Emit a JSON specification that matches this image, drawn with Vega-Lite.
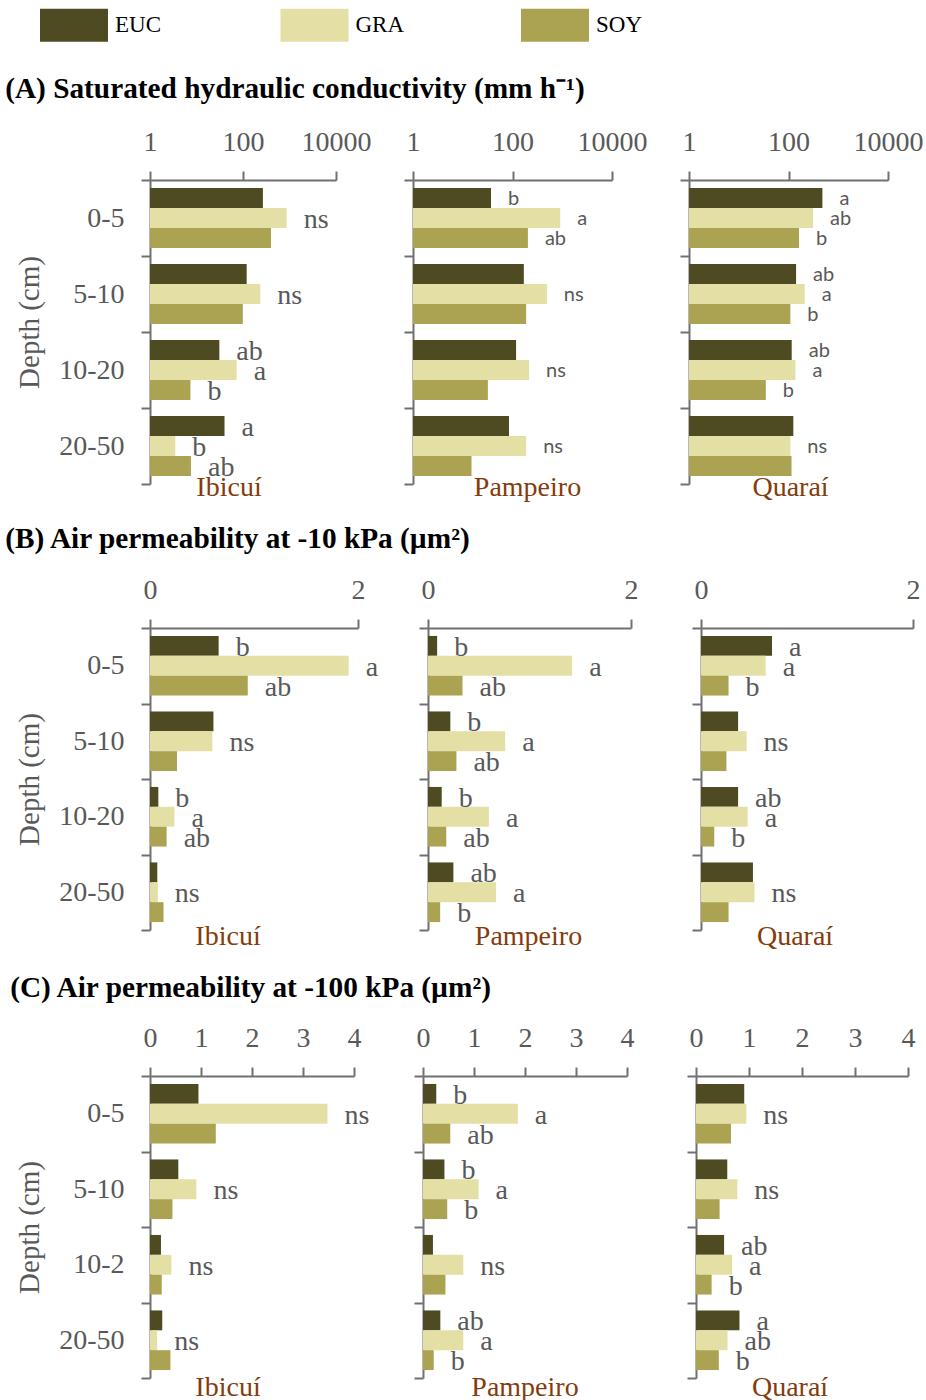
{
"$schema": "https://vega.github.io/schema/vega-lite/v6.json",
"padding": {"left": 5, "top": 8, "right": 3, "bottom": 0},
"data": {"values": [
{"p":"A","s":"Ibicuí","d":"0-5","t":"EUC","v":268,"l":""},
{"p":"A","s":"Ibicuí","d":"0-5","t":"GRA","v":870,"l":"ns"},
{"p":"A","s":"Ibicuí","d":"0-5","t":"SOY","v":400,"l":""},
{"p":"A","s":"Ibicuí","d":"5-10","t":"EUC","v":120,"l":""},
{"p":"A","s":"Ibicuí","d":"5-10","t":"GRA","v":236,"l":"ns"},
{"p":"A","s":"Ibicuí","d":"5-10","t":"SOY","v":99,"l":""},
{"p":"A","s":"Ibicuí","d":"10-20","t":"EUC","v":31,"l":"ab"},
{"p":"A","s":"Ibicuí","d":"10-20","t":"GRA","v":73,"l":"a"},
{"p":"A","s":"Ibicuí","d":"10-20","t":"SOY","v":7.4,"l":"b"},
{"p":"A","s":"Ibicuí","d":"20-50","t":"EUC","v":40,"l":"a"},
{"p":"A","s":"Ibicuí","d":"20-50","t":"GRA","v":3.5,"l":"b"},
{"p":"A","s":"Ibicuí","d":"20-50","t":"SOY","v":7.6,"l":"ab"},
{"p":"A","s":"Pampeiro","d":"0-5","t":"EUC","v":37,"l":"b"},
{"p":"A","s":"Pampeiro","d":"0-5","t":"GRA","v":910,"l":"a"},
{"p":"A","s":"Pampeiro","d":"0-5","t":"SOY","v":204,"l":"ab"},
{"p":"A","s":"Pampeiro","d":"5-10","t":"EUC","v":169,"l":""},
{"p":"A","s":"Pampeiro","d":"5-10","t":"GRA","v":490,"l":"ns"},
{"p":"A","s":"Pampeiro","d":"5-10","t":"SOY","v":188,"l":""},
{"p":"A","s":"Pampeiro","d":"10-20","t":"EUC","v":118,"l":""},
{"p":"A","s":"Pampeiro","d":"10-20","t":"GRA","v":215,"l":"ns"},
{"p":"A","s":"Pampeiro","d":"10-20","t":"SOY","v":32,"l":""},
{"p":"A","s":"Pampeiro","d":"20-50","t":"EUC","v":85,"l":""},
{"p":"A","s":"Pampeiro","d":"20-50","t":"GRA","v":188,"l":"ns"},
{"p":"A","s":"Pampeiro","d":"20-50","t":"SOY","v":15,"l":""},
{"p":"A","s":"Quaraí","d":"0-5","t":"EUC","v":480,"l":"a"},
{"p":"A","s":"Quaraí","d":"0-5","t":"GRA","v":311,"l":"ab"},
{"p":"A","s":"Quaraí","d":"0-5","t":"SOY","v":163,"l":"b"},
{"p":"A","s":"Quaraí","d":"5-10","t":"EUC","v":142,"l":"ab"},
{"p":"A","s":"Quaraí","d":"5-10","t":"GRA","v":212,"l":"a"},
{"p":"A","s":"Quaraí","d":"5-10","t":"SOY","v":109,"l":"b"},
{"p":"A","s":"Quaraí","d":"10-20","t":"EUC","v":116,"l":"ab"},
{"p":"A","s":"Quaraí","d":"10-20","t":"GRA","v":138,"l":"a"},
{"p":"A","s":"Quaraí","d":"10-20","t":"SOY","v":35,"l":"b"},
{"p":"A","s":"Quaraí","d":"20-50","t":"EUC","v":125,"l":""},
{"p":"A","s":"Quaraí","d":"20-50","t":"GRA","v":109,"l":"ns"},
{"p":"A","s":"Quaraí","d":"20-50","t":"SOY","v":115,"l":""},
{"p":"B","s":"Ibicuí","d":"0-5","t":"EUC","v":0.66,"l":"b"},
{"p":"B","s":"Ibicuí","d":"0-5","t":"GRA","v":1.91,"l":"a"},
{"p":"B","s":"Ibicuí","d":"0-5","t":"SOY","v":0.94,"l":"ab"},
{"p":"B","s":"Ibicuí","d":"5-10","t":"EUC","v":0.61,"l":""},
{"p":"B","s":"Ibicuí","d":"5-10","t":"GRA","v":0.60,"l":"ns"},
{"p":"B","s":"Ibicuí","d":"5-10","t":"SOY","v":0.26,"l":""},
{"p":"B","s":"Ibicuí","d":"10-20","t":"EUC","v":0.08,"l":"b"},
{"p":"B","s":"Ibicuí","d":"10-20","t":"GRA","v":0.235,"l":"a"},
{"p":"B","s":"Ibicuí","d":"10-20","t":"SOY","v":0.16,"l":"ab"},
{"p":"B","s":"Ibicuí","d":"20-50","t":"EUC","v":0.07,"l":""},
{"p":"B","s":"Ibicuí","d":"20-50","t":"GRA","v":0.075,"l":"ns"},
{"p":"B","s":"Ibicuí","d":"20-50","t":"SOY","v":0.13,"l":""},
{"p":"B","s":"Pampeiro","d":"0-5","t":"EUC","v":0.09,"l":"b"},
{"p":"B","s":"Pampeiro","d":"0-5","t":"GRA","v":1.42,"l":"a"},
{"p":"B","s":"Pampeiro","d":"0-5","t":"SOY","v":0.34,"l":"ab"},
{"p":"B","s":"Pampeiro","d":"5-10","t":"EUC","v":0.22,"l":"b"},
{"p":"B","s":"Pampeiro","d":"5-10","t":"GRA","v":0.76,"l":"a"},
{"p":"B","s":"Pampeiro","d":"5-10","t":"SOY","v":0.28,"l":"ab"},
{"p":"B","s":"Pampeiro","d":"10-20","t":"EUC","v":0.135,"l":"b"},
{"p":"B","s":"Pampeiro","d":"10-20","t":"GRA","v":0.60,"l":"a"},
{"p":"B","s":"Pampeiro","d":"10-20","t":"SOY","v":0.18,"l":"ab"},
{"p":"B","s":"Pampeiro","d":"20-50","t":"EUC","v":0.25,"l":"ab"},
{"p":"B","s":"Pampeiro","d":"20-50","t":"GRA","v":0.67,"l":"a"},
{"p":"B","s":"Pampeiro","d":"20-50","t":"SOY","v":0.12,"l":"b"},
{"p":"B","s":"Quaraí","d":"0-5","t":"EUC","v":0.67,"l":"a"},
{"p":"B","s":"Quaraí","d":"0-5","t":"GRA","v":0.61,"l":"a"},
{"p":"B","s":"Quaraí","d":"0-5","t":"SOY","v":0.26,"l":"b"},
{"p":"B","s":"Quaraí","d":"5-10","t":"EUC","v":0.35,"l":""},
{"p":"B","s":"Quaraí","d":"5-10","t":"GRA","v":0.43,"l":"ns"},
{"p":"B","s":"Quaraí","d":"5-10","t":"SOY","v":0.24,"l":""},
{"p":"B","s":"Quaraí","d":"10-20","t":"EUC","v":0.35,"l":"ab"},
{"p":"B","s":"Quaraí","d":"10-20","t":"GRA","v":0.44,"l":"a"},
{"p":"B","s":"Quaraí","d":"10-20","t":"SOY","v":0.125,"l":"b"},
{"p":"B","s":"Quaraí","d":"20-50","t":"EUC","v":0.49,"l":""},
{"p":"B","s":"Quaraí","d":"20-50","t":"GRA","v":0.505,"l":"ns"},
{"p":"B","s":"Quaraí","d":"20-50","t":"SOY","v":0.26,"l":""},
{"p":"C","s":"Ibicuí","d":"0-5","t":"EUC","v":0.95,"l":""},
{"p":"C","s":"Ibicuí","d":"0-5","t":"GRA","v":3.48,"l":"ns"},
{"p":"C","s":"Ibicuí","d":"0-5","t":"SOY","v":1.29,"l":""},
{"p":"C","s":"Ibicuí","d":"5-10","t":"EUC","v":0.555,"l":""},
{"p":"C","s":"Ibicuí","d":"5-10","t":"GRA","v":0.91,"l":"ns"},
{"p":"C","s":"Ibicuí","d":"5-10","t":"SOY","v":0.44,"l":""},
{"p":"C","s":"Ibicuí","d":"10-2","t":"EUC","v":0.215,"l":""},
{"p":"C","s":"Ibicuí","d":"10-2","t":"GRA","v":0.42,"l":"ns"},
{"p":"C","s":"Ibicuí","d":"10-2","t":"SOY","v":0.23,"l":""},
{"p":"C","s":"Ibicuí","d":"20-50","t":"EUC","v":0.24,"l":""},
{"p":"C","s":"Ibicuí","d":"20-50","t":"GRA","v":0.14,"l":"ns"},
{"p":"C","s":"Ibicuí","d":"20-50","t":"SOY","v":0.40,"l":""},
{"p":"C","s":"Pampeiro","d":"0-5","t":"EUC","v":0.26,"l":"b"},
{"p":"C","s":"Pampeiro","d":"0-5","t":"GRA","v":1.86,"l":"a"},
{"p":"C","s":"Pampeiro","d":"0-5","t":"SOY","v":0.535,"l":"ab"},
{"p":"C","s":"Pampeiro","d":"5-10","t":"EUC","v":0.42,"l":"b"},
{"p":"C","s":"Pampeiro","d":"5-10","t":"GRA","v":1.09,"l":"a"},
{"p":"C","s":"Pampeiro","d":"5-10","t":"SOY","v":0.475,"l":"b"},
{"p":"C","s":"Pampeiro","d":"10-2","t":"EUC","v":0.195,"l":""},
{"p":"C","s":"Pampeiro","d":"10-2","t":"GRA","v":0.79,"l":"ns"},
{"p":"C","s":"Pampeiro","d":"10-2","t":"SOY","v":0.44,"l":""},
{"p":"C","s":"Pampeiro","d":"20-50","t":"EUC","v":0.34,"l":"ab"},
{"p":"C","s":"Pampeiro","d":"20-50","t":"GRA","v":0.79,"l":"a"},
{"p":"C","s":"Pampeiro","d":"20-50","t":"SOY","v":0.21,"l":"b"},
{"p":"C","s":"Quaraí","d":"0-5","t":"EUC","v":0.91,"l":""},
{"p":"C","s":"Quaraí","d":"0-5","t":"GRA","v":0.95,"l":"ns"},
{"p":"C","s":"Quaraí","d":"0-5","t":"SOY","v":0.66,"l":""},
{"p":"C","s":"Quaraí","d":"5-10","t":"EUC","v":0.59,"l":""},
{"p":"C","s":"Quaraí","d":"5-10","t":"GRA","v":0.78,"l":"ns"},
{"p":"C","s":"Quaraí","d":"5-10","t":"SOY","v":0.445,"l":""},
{"p":"C","s":"Quaraí","d":"10-2","t":"EUC","v":0.53,"l":"ab"},
{"p":"C","s":"Quaraí","d":"10-2","t":"GRA","v":0.68,"l":"a"},
{"p":"C","s":"Quaraí","d":"10-2","t":"SOY","v":0.295,"l":"b"},
{"p":"C","s":"Quaraí","d":"20-50","t":"EUC","v":0.82,"l":"a"},
{"p":"C","s":"Quaraí","d":"20-50","t":"GRA","v":0.595,"l":"ab"},
{"p":"C","s":"Quaraí","d":"20-50","t":"SOY","v":0.43,"l":"b"}
]},
"spacing": 22,
"resolve": {"scale": {"yOffset": "independent"}},
"vconcat": [
{
"title": {"text": "(A) Saturated hydraulic conductivity (mm h⁻¹)", "anchor": "start", "frame": "bounds", "dx": -10.5, "offset": 24, "color": "black", "font": "Liberation Serif", "fontSize": 29.3, "fontWeight": "bold"},
"bounds": "flush", "spacing": 77,
"resolve": {"scale": {"yOffset": "independent"}},
"hconcat": [
{
"width": 186, "height": 304,
"transform": [{"filter": "datum.p==='A' && datum.s==='Ibicuí'"}],
"title": {"text": "Ibicuí", "orient": "bottom", "anchor": "middle", "frame": "group", "dx": -14, "offset": -11, "color": "#843C0C", "font": "Liberation Serif", "fontSize": 28, "fontWeight": "normal"},
"encoding": {
"y": {"field": "d", "type": "nominal", "sort": ["0-5","5-10","10-20","20-50"], "scale": {"paddingInner": 0, "paddingOuter": 0}, "axis": {"title": "Depth (cm)", "labelPadding": 17, "tickBand": "extent", "titlePadding": 14, "titleY": 142}},
"yOffset": {"field": "t", "type": "nominal", "sort": ["EUC","GRA","SOY"], "scale": {"paddingOuter": 0.4, "paddingInner": 0}},
"x": {"field": "v", "type": "quantitative", "scale": {"type": "log", "domain": [1, 10000], "nice": false}, "axis": {"orient": "top", "values": [1, 100, 10000], "format": "d", "labelFlush": false, "labelPadding": 15, "title": null, "labelOverlap": false}}
},
"layer": [
{"mark": {"type": "bar"}, "encoding": {"x2": {"datum": 1}, "color": {"field": "t", "type": "nominal", "title": null, "scale": {"domain": ["EUC","GRA","SOY"], "range": ["#4E4A22","#E3DFA5","#ABA351"]}, "legend": {"orient": "none", "legendX": -92.5, "legendY": -171.3, "direction": "horizontal", "gridAlign": "all", "columnPadding": 115.5, "symbolType": "M-2.06,-1H2.06V1H-2.06Z", "symbolSize": 1089, "symbolStrokeWidth": 0, "labelFont": "Liberation Serif", "labelFontSize": 23, "labelColor": "black", "labelOffset": 24.5, "padding": 0}}}},
{"transform": [{"filter": "datum.l !== ''"}], "mark": {"type": "text", "align": "left", "baseline": "middle", "dx": 17, "dy": 2, "font": "Liberation Serif", "fontSize": 28, "color": "#595959"}, "encoding": {"text": {"field": "l"}}}
]
},
{
"width": 199, "height": 304,
"transform": [{"filter": "datum.p==='A' && datum.s==='Pampeiro'"}],
"title": {"text": "Pampeiro", "orient": "bottom", "anchor": "middle", "frame": "group", "dx": 15, "offset": -11, "color": "#843C0C", "font": "Liberation Serif", "fontSize": 28, "fontWeight": "normal"},
"encoding": {
"y": {"field": "d", "type": "nominal", "sort": ["0-5","5-10","10-20","20-50"], "scale": {"paddingInner": 0, "paddingOuter": 0}, "axis": {"labels": false, "title": null, "tickBand": "extent"}},
"yOffset": {"field": "t", "type": "nominal", "sort": ["EUC","GRA","SOY"], "scale": {"paddingOuter": 0.4, "paddingInner": 0}},
"x": {"field": "v", "type": "quantitative", "scale": {"type": "log", "domain": [1, 10000], "nice": false}, "axis": {"orient": "top", "values": [1, 100, 10000], "format": "d", "labelFlush": false, "labelPadding": 15, "title": null, "labelOverlap": false}}
},
"layer": [
{"mark": {"type": "bar"}, "encoding": {"x2": {"datum": 1}, "color": {"field": "t", "type": "nominal", "title": null}}},
{"transform": [{"filter": "datum.l !== ''"}], "mark": {"type": "text", "align": "left", "baseline": "middle", "dx": 17, "dy": 1, "font": "Lato", "fontSize": 20, "color": "#595959"}, "encoding": {"text": {"field": "l"}}}
]
},
{
"width": 199, "height": 304,
"transform": [{"filter": "datum.p==='A' && datum.s==='Quaraí'"}],
"title": {"text": "Quaraí", "orient": "bottom", "anchor": "middle", "frame": "group", "dx": 2, "offset": -11, "color": "#843C0C", "font": "Liberation Serif", "fontSize": 28, "fontWeight": "normal"},
"encoding": {
"y": {"field": "d", "type": "nominal", "sort": ["0-5","5-10","10-20","20-50"], "scale": {"paddingInner": 0, "paddingOuter": 0}, "axis": {"labels": false, "title": null, "tickBand": "extent"}},
"yOffset": {"field": "t", "type": "nominal", "sort": ["EUC","GRA","SOY"], "scale": {"paddingOuter": 0.4, "paddingInner": 0}},
"x": {"field": "v", "type": "quantitative", "scale": {"type": "log", "domain": [1, 10000], "nice": false}, "axis": {"orient": "top", "values": [1, 100, 10000], "format": "d", "labelFlush": false, "labelPadding": 15, "title": null, "labelOverlap": false}}
},
"layer": [
{"mark": {"type": "bar"}, "encoding": {"x2": {"datum": 1}, "color": {"field": "t", "type": "nominal", "title": null}}},
{"transform": [{"filter": "datum.l !== ''"}], "mark": {"type": "text", "align": "left", "baseline": "middle", "dx": 17, "dy": 1, "font": "Lato", "fontSize": 20, "color": "#595959"}, "encoding": {"text": {"field": "l"}}}
]
}
]
},
{
"title": {"text": "(B) Air permeability at -10 kPa (µm²)", "anchor": "start", "frame": "bounds", "dx": -10.5, "offset": 22, "color": "black", "font": "Liberation Serif", "fontSize": 29.3, "fontWeight": "bold"},
"bounds": "flush", "spacing": 70,
"resolve": {"scale": {"yOffset": "independent"}},
"hconcat": [
{
"width": 208, "height": 302,
"transform": [{"filter": "datum.p==='B' && datum.s==='Ibicuí'"}],
"title": {"text": "Ibicuí", "orient": "bottom", "anchor": "middle", "frame": "group", "dx": -26, "offset": -8, "color": "#843C0C", "font": "Liberation Serif", "fontSize": 28, "fontWeight": "normal"},
"encoding": {
"y": {"field": "d", "type": "nominal", "sort": ["0-5","5-10","10-20","20-50"], "scale": {"paddingInner": 0, "paddingOuter": 0}, "axis": {"title": "Depth (cm)", "labelPadding": 17, "tickBand": "extent", "titlePadding": 14}},
"yOffset": {"field": "t", "type": "nominal", "sort": ["EUC","GRA","SOY"], "scale": {"paddingOuter": 0.4, "paddingInner": 0}},
"x": {"field": "v", "type": "quantitative", "scale": {"domain": [0, 2], "nice": false}, "axis": {"orient": "top", "values": [0, 1, 2], "format": "d", "labelFlush": false, "labelPadding": 15, "title": null, "labelOverlap": false}}
},
"layer": [
{"mark": {"type": "bar"}, "encoding": {"color": {"field": "t", "type": "nominal", "title": null}}},
{"transform": [{"filter": "datum.l !== ''"}], "mark": {"type": "text", "align": "left", "baseline": "middle", "dx": 17, "dy": 2, "font": "Liberation Serif", "fontSize": 28, "color": "#595959"}, "encoding": {"text": {"field": "l"}}}
]
},
{
"width": 203, "height": 302,
"transform": [{"filter": "datum.p==='B' && datum.s==='Pampeiro'"}],
"title": {"text": "Pampeiro", "orient": "bottom", "anchor": "middle", "frame": "group", "dx": -1, "offset": -8, "color": "#843C0C", "font": "Liberation Serif", "fontSize": 28, "fontWeight": "normal"},
"encoding": {
"y": {"field": "d", "type": "nominal", "sort": ["0-5","5-10","10-20","20-50"], "scale": {"paddingInner": 0, "paddingOuter": 0}, "axis": {"labels": false, "title": null, "tickBand": "extent"}},
"yOffset": {"field": "t", "type": "nominal", "sort": ["EUC","GRA","SOY"], "scale": {"paddingOuter": 0.4, "paddingInner": 0}},
"x": {"field": "v", "type": "quantitative", "scale": {"domain": [0, 2], "nice": false}, "axis": {"orient": "top", "values": [0, 1, 2], "format": "d", "labelFlush": false, "labelPadding": 15, "title": null, "labelOverlap": false}}
},
"layer": [
{"mark": {"type": "bar"}, "encoding": {"color": {"field": "t", "type": "nominal", "title": null}}},
{"transform": [{"filter": "datum.l !== ''"}], "mark": {"type": "text", "align": "left", "baseline": "middle", "dx": 17, "dy": 2, "font": "Liberation Serif", "fontSize": 28, "color": "#595959"}, "encoding": {"text": {"field": "l"}}}
]
},
{
"width": 212, "height": 302,
"transform": [{"filter": "datum.p==='B' && datum.s==='Quaraí'"}],
"title": {"text": "Quaraí", "orient": "bottom", "anchor": "middle", "frame": "group", "dx": -12, "offset": -8, "color": "#843C0C", "font": "Liberation Serif", "fontSize": 28, "fontWeight": "normal"},
"encoding": {
"y": {"field": "d", "type": "nominal", "sort": ["0-5","5-10","10-20","20-50"], "scale": {"paddingInner": 0, "paddingOuter": 0}, "axis": {"labels": false, "title": null, "tickBand": "extent"}},
"yOffset": {"field": "t", "type": "nominal", "sort": ["EUC","GRA","SOY"], "scale": {"paddingOuter": 0.4, "paddingInner": 0}},
"x": {"field": "v", "type": "quantitative", "scale": {"domain": [0, 2], "nice": false}, "axis": {"orient": "top", "values": [0, 1, 2], "format": "d", "labelFlush": false, "labelPadding": 15, "title": null, "labelOverlap": false}}
},
"layer": [
{"mark": {"type": "bar"}, "encoding": {"color": {"field": "t", "type": "nominal", "title": null}}},
{"transform": [{"filter": "datum.l !== ''"}], "mark": {"type": "text", "align": "left", "baseline": "middle", "dx": 17, "dy": 2, "font": "Liberation Serif", "fontSize": 28, "color": "#595959"}, "encoding": {"text": {"field": "l"}}}
]
}
]
},
{
"title": {"text": "(C) Air permeability at -100 kPa (µm²)", "anchor": "start", "frame": "bounds", "dx": -5.5, "offset": 21, "color": "black", "font": "Liberation Serif", "fontSize": 29.3, "fontWeight": "bold"},
"bounds": "flush", "spacing": 69,
"resolve": {"scale": {"yOffset": "independent"}},
"hconcat": [
{
"width": 204, "height": 302,
"transform": [{"filter": "datum.p==='C' && datum.s==='Ibicuí'"}],
"title": {"text": "Ibicuí", "orient": "bottom", "anchor": "middle", "frame": "group", "dx": -24, "offset": -5, "color": "#843C0C", "font": "Liberation Serif", "fontSize": 28, "fontWeight": "normal"},
"encoding": {
"y": {"field": "d", "type": "nominal", "sort": ["0-5","5-10","10-2","20-50"], "scale": {"paddingInner": 0, "paddingOuter": 0}, "axis": {"title": "Depth (cm)", "labelPadding": 17, "tickBand": "extent", "titlePadding": 14}},
"yOffset": {"field": "t", "type": "nominal", "sort": ["EUC","GRA","SOY"], "scale": {"paddingOuter": 0.4, "paddingInner": 0}},
"x": {"field": "v", "type": "quantitative", "scale": {"domain": [0, 4], "nice": false}, "axis": {"orient": "top", "values": [0, 1, 2, 3, 4], "format": "d", "labelFlush": false, "labelPadding": 15, "title": null, "labelOverlap": false}}
},
"layer": [
{"mark": {"type": "bar"}, "encoding": {"color": {"field": "t", "type": "nominal", "title": null}}},
{"transform": [{"filter": "datum.l !== ''"}], "mark": {"type": "text", "align": "left", "baseline": "middle", "dx": 17, "dy": 2, "font": "Liberation Serif", "fontSize": 28, "color": "#595959"}, "encoding": {"text": {"field": "l"}}}
]
},
{
"width": 204, "height": 302,
"transform": [{"filter": "datum.p==='C' && datum.s==='Pampeiro'"}],
"title": {"text": "Pampeiro", "orient": "bottom", "anchor": "middle", "frame": "group", "dx": 0, "offset": -5, "color": "#843C0C", "font": "Liberation Serif", "fontSize": 28, "fontWeight": "normal"},
"encoding": {
"y": {"field": "d", "type": "nominal", "sort": ["0-5","5-10","10-2","20-50"], "scale": {"paddingInner": 0, "paddingOuter": 0}, "axis": {"labels": false, "title": null, "tickBand": "extent"}},
"yOffset": {"field": "t", "type": "nominal", "sort": ["EUC","GRA","SOY"], "scale": {"paddingOuter": 0.4, "paddingInner": 0}},
"x": {"field": "v", "type": "quantitative", "scale": {"domain": [0, 4], "nice": false}, "axis": {"orient": "top", "values": [0, 1, 2, 3, 4], "format": "d", "labelFlush": false, "labelPadding": 15, "title": null, "labelOverlap": false}}
},
"layer": [
{"mark": {"type": "bar"}, "encoding": {"color": {"field": "t", "type": "nominal", "title": null}}},
{"transform": [{"filter": "datum.l !== ''"}], "mark": {"type": "text", "align": "left", "baseline": "middle", "dx": 17, "dy": 2, "font": "Liberation Serif", "fontSize": 28, "color": "#595959"}, "encoding": {"text": {"field": "l"}}}
]
},
{
"width": 212, "height": 302,
"transform": [{"filter": "datum.p==='C' && datum.s==='Quaraí'"}],
"title": {"text": "Quaraí", "orient": "bottom", "anchor": "middle", "frame": "group", "dx": -12, "offset": -5, "color": "#843C0C", "font": "Liberation Serif", "fontSize": 28, "fontWeight": "normal"},
"encoding": {
"y": {"field": "d", "type": "nominal", "sort": ["0-5","5-10","10-2","20-50"], "scale": {"paddingInner": 0, "paddingOuter": 0}, "axis": {"labels": false, "title": null, "tickBand": "extent"}},
"yOffset": {"field": "t", "type": "nominal", "sort": ["EUC","GRA","SOY"], "scale": {"paddingOuter": 0.4, "paddingInner": 0}},
"x": {"field": "v", "type": "quantitative", "scale": {"domain": [0, 4], "nice": false}, "axis": {"orient": "top", "values": [0, 1, 2, 3, 4], "format": "d", "labelFlush": false, "labelPadding": 15, "title": null, "labelOverlap": false}}
},
"layer": [
{"mark": {"type": "bar"}, "encoding": {"color": {"field": "t", "type": "nominal", "title": null}}},
{"transform": [{"filter": "datum.l !== ''"}], "mark": {"type": "text", "align": "left", "baseline": "middle", "dx": 17, "dy": 2, "font": "Liberation Serif", "fontSize": 28, "color": "#595959"}, "encoding": {"text": {"field": "l"}}}
]
}
]
}
],
"config": {
"view": {"stroke": null},
"axis": {"labelFont": "Liberation Serif", "labelFontSize": 28, "labelColor": "#595959", "titleFont": "Liberation Serif", "titleFontSize": 29, "titleFontWeight": "normal", "titleColor": "#595959", "domainColor": "#707070", "tickColor": "#707070", "domainWidth": 2, "tickWidth": 2, "tickSize": 9, "grid": false}
}
}
